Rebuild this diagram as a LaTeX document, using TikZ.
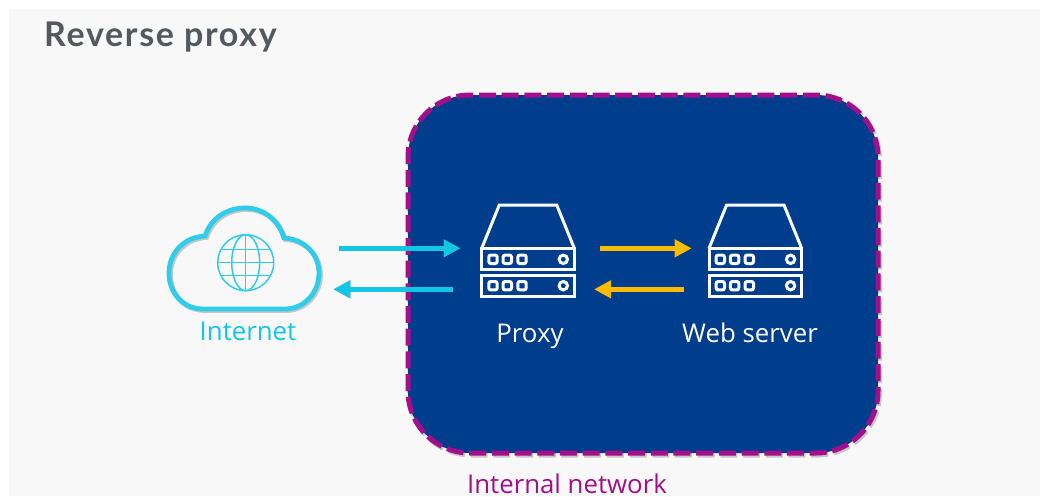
\documentclass[tikz,border=0pt]{standalone}
\usepackage{fontspec}
\setmainfont{Open Sans}
\newfontfamily\titlefont[LetterSpace=5]{Lato}
\usetikzlibrary{arrows.meta}
\definecolor{pagegray}{HTML}{F8F8F8}
\definecolor{titlegray}{HTML}{54595C}
\definecolor{netblue}{HTML}{003D8C}
\definecolor{netpurple}{HTML}{A30F8A}
\definecolor{cloudcyan}{HTML}{30CDEA}
\definecolor{arrowcyan}{HTML}{14C6E6}
\definecolor{arrowyellow}{HTML}{FBBC00}
\newcommand{\netpath}{(650,95) -- (878,95) -- (878,453) -- (408,453) -- (408,95) -- cycle}
\newcommand{\cloudpath}{(203,309) .. controls (183,309) and (169,293) .. (169,273) .. controls (169,253) and (184,237) .. (205,236) .. controls (211,218) and (227,208) .. (245,208) .. controls (263,208) and (278,219) .. (284,238) .. controls (304,239) and (319,254) .. (319,273) .. controls (319,293) and (304,309) .. (285,309) -- cycle}
\tikzset{
  netline/.style={line width=5pt,dash pattern=on 17pt off 5.7pt,rounded corners=62pt},
  flow/.style={line width=5.5pt,-{Triangle[length=17pt,width=17pt]}},
  label/.style={font=\fontsize{25.8}{30}\selectfont,anchor=base},
  server/.pic={
    \draw[white,line width=3pt,line join=miter] (-46.3,0) -- (-28.7,-43.3) -- (28.7,-43.3) -- (46.3,0);
    \draw[white,line width=3pt] (-46.3,0) rectangle (46.3,21);
    \draw[white,line width=3pt] (-46.3,26.7) rectangle (46.3,48.4);
    \foreach \y in {11,37.4}{
      \foreach \x in {-35,-20.7,-6}
        \draw[white,line width=3pt,rounded corners=2pt] (\x-4.2,\y-4.2) rectangle (\x+4.2,\y+4.2);
      \draw[white,line width=3pt] (35.3,\y) circle (4.2);
    }
  }
}
\begin{document}
\begin{tikzpicture}[x=1pt,y=-1pt]
\useasboundingbox (0,0) rectangle (1040,496);
\fill[pagegray] (9,9) rectangle (1040,496);
\node[anchor=base west,inner sep=0pt,text=titlegray,font=\titlefont\bfseries\fontsize{34}{36}\selectfont] (title) at (44,46) {Reverse proxy};
% internal network box
\draw[netline,black,opacity=.2,shift={(1.5,2)}] \netpath;
\draw[netline,netpurple,fill=netblue] \netpath;
\node[label,text=netpurple] (internal) at (567,493) {Internal network};
% cloud
\draw[black,opacity=.2,line width=4.8pt,shift={(1.5,1.5)}] \cloudpath;
\draw[cloudcyan,line width=4.8pt] \cloudpath;
\begin{scope}[cloudcyan,line width=1.5pt]
\draw (245.7,262.7) circle (28);
\draw (245.7,262.7) ellipse (14 and 28);
\draw (245.7,234.7) -- (245.7,290.7);
\draw (217.7,262.7) -- (273.7,262.7);
\draw (221.3,249.7) -- (270.1,249.7);
\draw (221.3,275.7) -- (270.1,275.7);
\end{scope}
\node[label,text=arrowcyan] (internet) at (248,340) {Internet};
% servers
\pic (proxy) at (528,248.3) {server};
\pic (web) at (755.3,248.3) {server};
\node[label,text=white] (proxylabel) at (530,342) {Proxy};
\node[label,text=white] (weblabel) at (750,342) {Web server};
% arrows
\coordinate (in1) at (339,248.3);
\coordinate (in2) at (460.7,248.3);
\coordinate (out1) at (453.3,289.3);
\coordinate (out2) at (333.3,289.3);
\coordinate (req1) at (600,248.3);
\coordinate (req2) at (691.7,248.3);
\coordinate (resp1) at (684,289.3);
\coordinate (resp2) at (594,289.3);
\foreach \from/\to/\col in {in1/in2/arrowcyan,out1/out2/arrowcyan,req1/req2/arrowyellow,resp1/resp2/arrowyellow}{
  \draw[flow,black,opacity=.25,shift={(1.5,1.5)}] (\from) -- (\to);
  \draw[flow,\col] (\from) -- (\to);
}
\end{tikzpicture}
\end{document}
